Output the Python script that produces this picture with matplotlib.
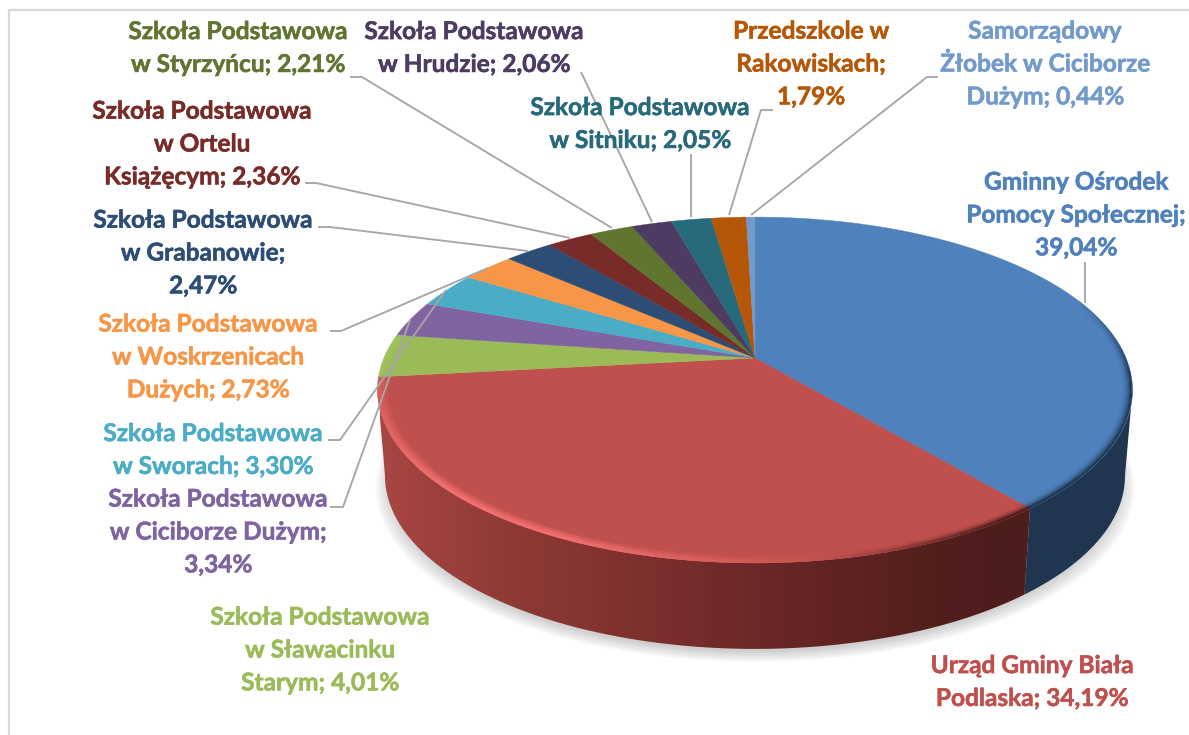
import numpy as np
import matplotlib
matplotlib.use("Agg")
import matplotlib.pyplot as plt
import matplotlib.patheffects as pe
from matplotlib.collections import LineCollection
from matplotlib.colors import LinearSegmentedColormap, to_rgb
from matplotlib.patches import Polygon

# data, clockwise from the top of the pie
categories = [
    "Gminny Ośrodek\nPomocy Społecznej;\n{}%",
    "Urząd Gminy Biała\nPodlaska; {}%",
    "Szkoła Podstawowa\nw Sławacinku\nStarym; {}%",
    "Szkoła Podstawowa\nw Ciciborze Dużym;\n{}%",
    "Szkoła Podstawowa\nw Sworach; {}%",
    "Szkoła Podstawowa\nw Woskrzenicach\nDużych; {}%",
    "Szkoła Podstawowa\nw Grabanowie;\n{}%",
    "Szkoła Podstawowa\nw Ortelu\nKsiążęcym; {}%",
    "Szkoła Podstawowa\nw Styrzyńcu; {}%",
    "Szkoła Podstawowa\nw Hrudzie; {}%",
    "Szkoła Podstawowa\nw Sitniku; {}%",
    "Przedszkole w\nRakowiskach;\n{}%",
    "Samorządowy\nŻłobek w Ciciborze\nDużym; {}%",
]
shares = [39.04, 34.19, 4.01, 3.34, 3.30, 2.73, 2.47, 2.36, 2.21, 2.06, 2.05, 1.79, 0.44]

colors = ["#4F81BD", "#C0504D", "#9BBB59", "#8064A2", "#4BACC6", "#F79646", "#2C4D75",
          "#772C2A", "#5F7530", "#4D3B62", "#276A7C", "#B65708", "#729ACA"]
label_pos = [(1076, 215), (1032, 682), (320, 650), (218, 532), (213, 450), (208, 357), (203, 253),
             (202, 144), (238, 48), (474, 48), (640, 124), (811, 64), (1045, 64)]
leaders = [
    [(1085, 262), (1085, 303)],
    None,
    None,
    [(330, 507), (343, 507), (410, 320)],
    [(328, 440), (340, 440), (446, 290)],
    [(330, 331), (341, 331), (488, 268)],
    [(318, 227), (330, 227), (528, 251)],
    [(305, 183), (316, 183), (570, 238)],
    [(350, 77), (362, 77), (612, 228)],
    [(581, 72), (652, 222)],
    [(691, 154), (691, 217)],
    [(773, 110), (761, 110), (729, 215)],
    [(938, 77), (927, 77), (751, 215)],
]

# pie geometry in pixels, perspective tilt makes the front bigger
cx, cy = 755, 358
rx, ry = 371, 167
tilt = 0.185
wall_h = 86
wall_scale = 0.98


def project(theta, r=1.0):
    u = r * np.sin(theta)
    v = -r * np.cos(theta)
    d = 1 - tilt * v
    return cx + rx * u / d, cy + ry * v / d


def wall_outline(t0, t1):
    th = np.linspace(t0, t1, 200)
    x, y = project(th)
    xb = cx + (x - cx) * wall_scale
    yb = y + wall_h
    return np.r_[x, xb[::-1]], np.r_[y, yb[::-1]]


def mix(c1, c2, t):
    c1, c2 = np.array(to_rgb(c1)), np.array(to_rgb(c2))
    return c1 + (c2 - c1) * t


fig = plt.figure(figsize=(11.89, 7.35), dpi=100)
ax = fig.add_axes([0, 0, 1, 1])
ax.set_xlim(0, 1189)
ax.set_ylim(735, 0)
ax.axis("off")

# frame of the pasted picture
ax.plot([9, 9, 1189], [735, 10, 10], color="#DADADA", lw=1.6, zorder=1)

edges = np.r_[0, np.cumsum(shares)] / sum(shares) * 2 * np.pi
right_t = np.arccos(-tilt)
left_t = 2 * np.pi - right_t

# soft shadow under the pie
th = np.linspace(0, 2 * np.pi, 300)
sx, sy = project(th)
for i in range(12):
    grow = 1.025 - i * 0.0035
    ax.fill(cx + (sx - cx) * wall_scale * grow, sy + wall_h + 13 - i * 1.0,
            color="#7F7F7F", alpha=0.035, lw=0, zorder=2)

# side walls, blue one is flat, red one fades to the right
bx, by = wall_outline(right_t, edges[1])
ax.fill(bx, by, color="#1F3550", lw=0, zorder=3)

wx, wy = wall_outline(edges[1], left_t)
wall_cmap = LinearSegmentedColormap.from_list(
    "wall", [(0, "#A84643"), (0.2, "#8E3A36"), (0.42, "#7C2F2D"), (0.6, "#6A2727"), (0.85, "#521F1D"), (1, "#4C1D1B")])
img = ax.imshow(np.linspace(0, 1, 256)[None, :], extent=(380, 1030, 660, 380), cmap=wall_cmap,
                aspect="auto", zorder=3)
img.set_clip_path(Polygon(np.c_[wx, wy], transform=ax.transData))
ax.set_xlim(0, 1189)
ax.set_ylim(735, 0)

# top of the pie
for i, c in enumerate(colors):
    t = np.linspace(edges[i], edges[i + 1], 120)
    x, y = project(t)
    ax.fill(np.r_[cx, x], np.r_[cy, y], color=c, lw=0.3, zorder=4)

# bevel on the visible rim
rings = np.linspace(0.972, 1.0, 10)
for i in range(3):
    t = np.linspace(edges[i], min(edges[i + 1], 4.9), 260) if i else np.linspace(1.2, edges[1], 200)
    for k in range(len(rings) - 1):
        x, y = project(t, rings[k])
        pts = np.c_[x, y]
        segs = np.stack([pts[:-1], pts[1:]], axis=1)
        f = k / (len(rings) - 2)
        seg_c = []
        for xm, tm in zip(x[:-1], t[:-1]):
            # highlight on the left, dark edge on the right
            glow = np.clip((830 - xm) / 260, 0, 1)
            dark = np.clip((xm - 830) / 170, 0, 1)
            if i == 0:
                glow, dark = 0, np.clip((tm - 1.2) / 0.5, 0, 1)
            else:
                # highlight dies out towards the far left end of the rim
                glow *= np.clip((5.0 - tm) / 1.0, 0.45, 1)
            edge_c = mix(colors[i], "#F47070" if i == 1 else "#B2D768", glow)
            dark_c = "#4C1D1B" if i == 1 else "#1F3550"
            c = mix(colors[i], edge_c, f ** 0.8)
            c = mix(c, dark_c, dark * f ** 2.2)
            seg_c.append(c)
        ax.add_collection(LineCollection(segs, colors=seg_c, linewidths=1.5, zorder=5, capstyle="butt"))

# leader lines sit above the pie
for pts in leaders:
    if pts:
        ax.plot(*zip(*pts), color="#A6A6A6", lw=1.35, zorder=6, solid_capstyle="butt")

for name, v, pos, c in zip(categories, shares, label_pos, colors):
    val = f"{v:.2f}".replace(".", ",")
    ax.text(pos[0], pos[1], name.format(val), color=c, family="Lato", weight="bold", fontsize=17.6,
            ha="center", va="center", ma="center", linespacing=1.52, zorder=7,
            path_effects=[pe.withStroke(linewidth=0.4, foreground=c)])

fig.savefig("out.png", dpi=100)
